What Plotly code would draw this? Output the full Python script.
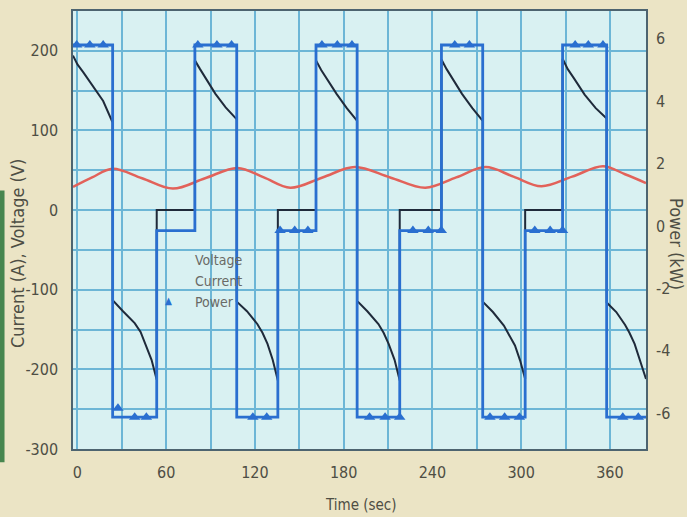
import plotly.graph_objects as go

# ---- data -------------------------------------------------------------
# Power set-point (kW): step changes at these times (sec)
power_t = [-3, 23.8, 53.6, 79.4, 107.7, 135.5, 161.3, 189.1, 217.9, 246.1, 274,
           302.7, 328, 357.8, 384.4]
power_kw = [5.8, -6.13, -0.15, 5.8, -6.13, -0.15, 5.8, -6.13, -0.15, 5.8,
            -6.13, -0.15, 5.8, -6.13, -6.13]

# Logged power samples (triangles)
sample_t = [-0.5, 8.4, 17.4, 81.4, 94.3, 104.2, 165.3, 175.7, 185.6, 255.1, 265,
            336.5, 345.4, 355.3,
            27.4, 38.7, 46.6, 118.6, 128, 197.5, 208, 217.9, 278.9, 288.8, 298.8,
            368.7, 379.2,
            137, 146.9, 155.8, 226.8, 237.2, 246, 309.2, 319.6, 328]
sample_kw = [5.8, 5.8, 5.8, 5.8, 5.8, 5.8, 5.8, 5.8, 5.8, 5.8, 5.8, 5.8, 5.8, 5.8,
             -5.84, -6.13, -6.13, -6.13, -6.13, -6.13, -6.13, -6.13, -6.13, -6.13,
             -6.13, -6.13, -6.13,
             -0.15, -0.15, -0.15, -0.15, -0.15, -0.15, -0.15, -0.15, -0.15]

# Battery current (A)
current_t = [-3, 0, 4, 10.9, 17.4, 23.8, 23.8, 30.8, 38.7, 42.7, 46.1, 50.1, 53.6, 53.6, 79.4,
             79.4, 82.9, 86.3, 93.3, 100.2, 107.7, 107.7, 114.6, 121.6, 125.1, 128.5, 132, 135.5, 135.5, 161.3,
             161.3, 164.8, 168.2, 175.2, 182.1, 189.1, 189.1, 196, 203.5, 207, 210.4, 214.4, 217.9, 217.9, 246.1,
             246.1, 249.6, 253.1, 260, 267, 274, 274, 280.9, 288.3, 291.8, 295.8, 299.3, 302.7, 302.7, 328,
             328, 331.5, 335.5, 342.9, 350.4, 357.8, 357.8, 364.3, 370.2, 373.2, 376.7, 380.1, 384.4]
current_a = [194, 183, 173, 154, 137, 110, -113, -127, -142, -153, -168, -188, -213, 0, 0,
             188, 177, 167, 146, 129, 114, -115, -127, -143, -154, -168, -188, -214, 0, 0,
             188, 176, 166, 146, 128, 112, -114, -127, -143, -154, -168, -188, -214, 0, 0,
             189, 177, 166, 146, 128, 112, -115, -128, -145, -156, -170, -189, -212, 0, 0,
             190, 177, 166, 145, 128, 115, -116, -128, -144, -154, -168, -188, -212]

# Pack voltage (V)
voltage_t = [-3, 9.9, 23.8, 43.7, 64.5, 86.3, 108.2, 126, 143.9, 165.7, 187.6, 211.4,
             235.2, 256.1, 275.9, 294.8, 313.6, 334.5, 355.3, 370.2, 384.4]
voltage_v = [29, 41, 52, 40, 27, 40, 53, 41, 28, 41, 54, 41, 28, 41,
             54, 42, 30, 42, 55, 45, 34]

# Axis ticks
x_ticks = [0, 60, 120, 180, 240, 300, 360]
left_ticks = [-300, -200, -100, 0, 100, 200]
right_ticks = [-6, -4, -2, 0, 2, 4, 6]

# ---- styling ----------------------------------------------------------
FONT = "DejaVu Sans Condensed, Liberation Sans Narrow, Arial Narrow, sans-serif"
TXT = "#4e4e44"
BLUE = "#2a6fd0"
GRID = "#6db6d6"

fig = go.Figure()

fig.add_trace(go.Scatter(x=voltage_t, y=voltage_v, mode="lines", name="Voltage",
                         line=dict(color="#e2625a", width=2.5, shape="spline"),
                         showlegend=False))
fig.add_trace(go.Scatter(x=current_t, y=current_a, mode="lines", name="Current",
                         line=dict(color="#1f2a3a", width=2), showlegend=False))
fig.add_trace(go.Scatter(x=power_t, y=power_kw, mode="lines", name="Power",
                         line=dict(color=BLUE, width=2.8, shape="hv"),
                         yaxis="y2", showlegend=False))
fig.add_trace(go.Scatter(x=sample_t, y=sample_kw, mode="markers", name="Power",
                         marker=dict(symbol="triangle-up", size=10, color=BLUE),
                         yaxis="y2", showlegend=False))

axis_common = dict(showline=True, linecolor="#4d6470", linewidth=1.5,
                   ticks="", tickfont=dict(family=FONT, size=16, color=TXT),
                   zeroline=False)

fig.update_layout(
    width=687, height=517,
    margin=dict(l=73, r=41, t=9, b=68),
    paper_bgcolor="#ebe4c5",
    plot_bgcolor="#d9f1f2",
    showlegend=False,
    xaxis=dict(range=[-3, 384.4], tickvals=x_ticks,
               ticktext=[str(v) for v in x_ticks],
               showgrid=True, gridcolor=GRID, gridwidth=1.5,
               minor=dict(dtick=30, tick0=0, showgrid=True, gridcolor=GRID,
                          gridwidth=1.5),
               mirror=True, ticklabelstandoff=8, **axis_common),
    yaxis=dict(range=[-300, 250], tickvals=left_ticks,
               ticktext=[str(v) for v in left_ticks],
               showgrid=True, gridcolor=GRID, gridwidth=1.5,
               minor=dict(dtick=50, tick0=0, showgrid=True, gridcolor=GRID,
                          gridwidth=1.5),
               ticklabelstandoff=10, **axis_common),
    yaxis2=dict(range=[-7.15, 6.89], overlaying="y", side="right",
                tickvals=right_ticks, ticktext=[str(v) for v in right_ticks],
                showgrid=False, ticklabelstandoff=5, **axis_common),
)

# Axis titles
fig.add_annotation(text="Current (A), Voltage (V)", xref="paper", yref="paper",
                   x=-0.0977, y=0.445, xanchor="center", yanchor="middle",
                   textangle=-90, showarrow=False,
                   font=dict(family=FONT, size=18, color=TXT))
fig.add_annotation(text="Power (kW)", xref="paper", yref="paper",
                   x=1.0541, y=0.468, xanchor="center", yanchor="middle",
                   textangle=90, showarrow=False,
                   font=dict(family=FONT, size=18, color=TXT))
fig.add_annotation(text="Time (sec)", xref="paper", yref="paper",
                   x=0.503, y=-0.127, xanchor="center", yanchor="middle",
                   showarrow=False,
                   font=dict(family=FONT, size=15, color=TXT))

# Legend block
legend_items = ["Voltage", "Current", "Power"]
for i, name in enumerate(legend_items):
    fig.add_annotation(text=name, xref="paper", yref="paper",
                       x=0.2094, y=0.432 - i * 0.048, xanchor="left",
                       yanchor="middle", showarrow=False,
                       font=dict(family=FONT, size=14, color="#6a6a66"))
fig.add_annotation(text="\u25b2", xref="paper", yref="paper",
                   x=0.1658, y=0.339, xanchor="center", yanchor="middle",
                   showarrow=False,
                   font=dict(family=FONT, size=10, color=BLUE))

# Green binding strip at the left edge of the page
fig.add_shape(type="rect", xref="paper", yref="paper",
              x0=-0.1274, x1=-0.1195, y0=-0.03, y1=0.59,
              fillcolor="#47864f", line=dict(width=0), layer="above")

fig.write_html("out.html")
